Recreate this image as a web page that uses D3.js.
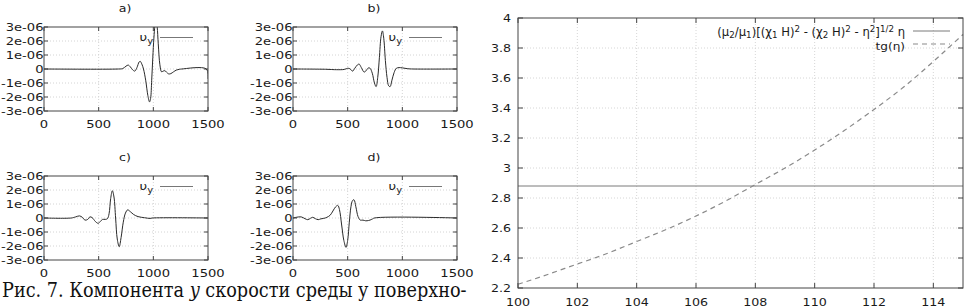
<!DOCTYPE html>
<html>
<head>
<meta charset="utf-8">
<script src="https://cdn.jsdelivr.net/npm/d3@7"></script>
<style>
  body { margin: 0; background: #fff; }
  svg { display: block; }
  text { font-family: "DejaVu Sans", sans-serif; fill: #1a1a1a; }
  text.caption, text.caption tspan { font-family: "DejaVu Serif", "Liberation Serif", "Times New Roman", serif; fill: #111; }
</style>
</head>
<body>
<svg id="chart" width="965" height="308"></svg>
<script>
// ---- small panels: u_y(t), values in units of 1e-6 ----
const panelNames = ["a)", "b)", "c)", "d)"];

const tA = [0, 680, 720, 750, 770, 790, 810, 830, 850, 870, 880, 895, 910, 930, 950, 965, 975, 985, 995, 1005, 1015, 1025, 1035, 1045, 1060, 1075, 1090, 1105, 1120, 1140, 1160, 1185, 1210, 1240, 1260, 1485, 1500];
const uA = [0, 0, 0.03, 0.2, 0.28, 0.15, -0.05, -0.15, 0.1, 0.5, 0.55, 0.35, 0, -0.8, -1.9, -2.35, -2.1, -0.8, 0.8, 2.2, 3.1, 3.4, 3.0, 1.8, 0.3, -0.2, -0.15, -0.12, -0.22, -0.35, -0.33, -0.2, -0.08, -0.02, 0, 0, -0.7];

const tB = [0, 300, 400, 470, 500, 520, 545, 565, 590, 605, 625, 650, 665, 690, 705, 725, 745, 760, 775, 790, 805, 818, 830, 845, 860, 875, 888, 905, 925, 945, 970, 1000, 1050, 1100, 1500];
const uB = [0, -0.02, -0.05, -0.03, 0.05, 0.02, -0.15, 0.05, 0.3, 0.35, 0.1, -0.22, -0.15, 0.08, 0.05, -0.3, -1.0, -1.26, -0.6, 0.8, 2.3, 2.72, 2.2, 0.6, -0.6, -1.2, -1.26, -0.8, -0.25, 0.05, 0.1, 0.08, 0.02, 0, 0];

const tC = [0, 250, 290, 325, 350, 375, 400, 420, 440, 470, 495, 515, 535, 560, 580, 595, 610, 625, 640, 655, 670, 688, 705, 725, 745, 765, 790, 820, 860, 920, 970, 990, 1500];
const uC = [0, 0, 0.08, 0.15, 0.05, -0.15, -0.1, 0.08, 0.03, -0.25, -0.38, -0.25, -0.1, -0.1, -0.05, 0.3, 1.4, 1.95, 1.5, 0, -1.5, -2.05, -1.4, -0.3, 0.35, 0.58, 0.45, 0.25, 0.1, 0.02, -0.03, 0, 0];

const tD = [0, 30, 75, 110, 135, 160, 180, 205, 230, 255, 280, 310, 340, 365, 390, 410, 425, 445, 465, 485, 500, 515, 530, 545, 558, 575, 595, 615, 640, 665, 690, 720, 745, 1500];
const uD = [0, 0.05, 0.08, -0.05, -0.12, -0.02, 0.05, -0.05, -0.12, -0.06, -0.03, 0.05, 0.2, 0.5, 0.8, 0.9, 0.6, -0.5, -1.6, -2.1, -1.6, -0.3, 0.8, 1.25, 1.3, 0.8, 0.1, -0.15, -0.15, -0.2, -0.18, -0.1, 0, 0];

const smallXTicks = [0, 500, 1000, 1500];
const smallYTicks = [-3, -2, -1, 0, 1, 2, 3];
const smallYLabels = ["-3e-06", "-2e-06", "-1e-06", "0", "1e-06", "2e-06", "3e-06"];

// ---- right panel: graphical solution ----
const eta = [100, 101, 102, 103, 104, 105, 106, 107, 108, 109, 110, 111, 112, 113, 114, 115];
const tgEta = [2.225, 2.29, 2.36, 2.43, 2.51, 2.59, 2.68, 2.78, 2.89, 3.00, 3.12, 3.25, 3.39, 3.54, 3.71, 3.89];
const lhsValue = 2.88;
const etaTicks = [100, 102, 104, 106, 108, 110, 112, 114];
const rightYTicks = [2.2, 2.4, 2.6, 2.8, 3, 3.2, 3.4, 3.6, 3.8, 4];

const svg = d3.select("#chart");

// text helper, stretched horizontally like the reference
function label(g, x, y, str, anchor, sx, size) {
  return g.append("text")
    .attr("transform", `translate(${x},${y}) scale(${sx},1)`)
    .attr("text-anchor", anchor)
    .attr("font-size", size)
    .text(str);
}

// rich text with sub/superscripts: parts = [[str, "n"|"sub"|"sup"], ...]
function rich(el, parts, size, sub = 3, sup = -4) {
  let shift = 0;
  parts.forEach(([s, kind]) => {
    const target = kind === "sub" ? sub : kind === "sup" ? sup : 0;
    el.append("tspan")
      .attr("dy", target - shift)
      .attr("font-size", kind === "n" ? size : size * 0.75)
      .text(s);
    shift = target;
  });
}

function smallPanel(left, top, name, t, u, id) {
  const w = 164, h = 84;
  const x = d3.scaleLinear().domain([0, 1500]).range([left, left + w]);
  const y = d3.scaleLinear().domain([-3, 3]).range([top + h, top]);
  const g = svg.append("g");

  // grid
  g.selectAll(".gx").data(smallXTicks.slice(1, -1)).join("line")
    .attr("x1", d => x(d)).attr("x2", d => x(d))
    .attr("y1", top).attr("y2", top + h)
    .attr("stroke", "#d4d4d4").attr("stroke-dasharray", "1,2");
  g.selectAll(".gy").data(smallYTicks.slice(1, -1)).join("line")
    .attr("x1", left).attr("x2", left + w)
    .attr("y1", d => y(d)).attr("y2", d => y(d))
    .attr("stroke", "#d4d4d4").attr("stroke-dasharray", "1,2");

  // inward ticks on all sides
  smallXTicks.forEach(d => {
    g.append("line").attr("x1", x(d)).attr("x2", x(d)).attr("y1", top + h).attr("y2", top + h - 4).attr("stroke", "#444");
    g.append("line").attr("x1", x(d)).attr("x2", x(d)).attr("y1", top).attr("y2", top + 4).attr("stroke", "#444");
    label(g, x(d), top + h + 17, String(d), "middle", 1.25, 10.5);
  });
  smallYTicks.forEach((d, i) => {
    g.append("line").attr("x1", left).attr("x2", left + 4).attr("y1", y(d)).attr("y2", y(d)).attr("stroke", "#444");
    g.append("line").attr("x1", left + w).attr("x2", left + w - 4).attr("y1", y(d)).attr("y2", y(d)).attr("stroke", "#444");
    label(g, left - 0.5, y(d) + 3.8, smallYLabels[i], "end", 1.25, 10.5);
  });

  // curve
  svg.append("clipPath").attr("id", id).append("rect")
    .attr("x", left).attr("y", top).attr("width", w).attr("height", h);
  const line = d3.line().x(d => x(d[0])).y(d => y(d[1])).curve(d3.curveCatmullRom.alpha(0.5));
  g.append("path").datum(d3.zip(t, u))
    .attr("clip-path", `url(#${id})`)
    .attr("d", line).attr("fill", "none").attr("stroke", "#2a2a2a").attr("stroke-width", 1);

  // border
  g.append("rect").attr("x", left).attr("y", top).attr("width", w).attr("height", h)
    .attr("fill", "none").attr("stroke", "#444").attr("stroke-width", 1);

  // legend
  const lt = g.append("text")
    .attr("transform", `translate(${left + 109},${top + 14}) scale(1.2,1)`)
    .attr("text-anchor", "end");
  rich(lt, [["υ", "n"], ["y", "sub"]], 11);
  g.append("line").attr("x1", left + 116).attr("x2", left + 149)
    .attr("y1", top + 10.5).attr("y2", top + 10.5)
    .attr("stroke", "#777").attr("stroke-width", 1.2);

  // title
  label(g, left + 81, top - 15.5, name, "middle", 1.2, 10.5);
}

smallPanel(44, 27, panelNames[0], tA, uA, "clipA");
smallPanel(293, 27, panelNames[1], tB, uB, "clipB");
smallPanel(44, 176, panelNames[2], tC, uC, "clipC");
smallPanel(293, 176, panelNames[3], tD, uD, "clipD");

// ---- right panel ----
{
  const left = 518, right = 963, top = 18, bottom = 288;
  const x = d3.scaleLinear().domain([100, 115]).range([left, right]);
  const y = d3.scaleLinear().domain([2.2, 4]).range([bottom, top]);
  const g = svg.append("g");

  g.selectAll(".gx").data(etaTicks.slice(1)).join("line")
    .attr("x1", d => x(d)).attr("x2", d => x(d)).attr("y1", top).attr("y2", bottom)
    .attr("stroke", "#d6d6d6").attr("stroke-dasharray", "1,2");
  g.selectAll(".gy").data(rightYTicks.slice(1, -1)).join("line")
    .attr("x1", left).attr("x2", right).attr("y1", d => y(d)).attr("y2", d => y(d))
    .attr("stroke", "#d6d6d6").attr("stroke-dasharray", "1,2");

  etaTicks.forEach(d => {
    g.append("line").attr("x1", x(d)).attr("x2", x(d)).attr("y1", bottom).attr("y2", bottom - 5).attr("stroke", "#444");
    g.append("line").attr("x1", x(d)).attr("x2", x(d)).attr("y1", top).attr("y2", top + 5).attr("stroke", "#444");
    label(g, x(d), bottom + 18, String(d), "middle", 1.15, 11);
  });
  rightYTicks.forEach(d => {
    g.append("line").attr("x1", left).attr("x2", left + 5).attr("y1", y(d)).attr("y2", y(d)).attr("stroke", "#444");
    g.append("line").attr("x1", right).attr("x2", right - 5).attr("y1", y(d)).attr("y2", y(d)).attr("stroke", "#444");
    label(g, left - 7, y(d) + 4, d3.format("")(d), "end", 1.15, 11);
  });

  // constant left-hand side
  const hline = d3.line().x(d => x(d[0])).y(d => y(d[1]));
  g.append("path").datum([[100, lhsValue], [115, lhsValue]])
    .attr("d", hline).attr("fill", "none").attr("stroke", "#7a7a7a").attr("stroke-width", 1);

  // tg(eta)
  const tline = d3.line().x((d, i) => x(eta[i])).y(d => y(d)).curve(d3.curveNatural);
  g.append("path").datum(tgEta)
    .attr("d", tline).attr("fill", "none").attr("stroke", "#8a8a8a")
    .attr("stroke-width", 1.2).attr("stroke-dasharray", "5,4");

  g.append("rect").attr("x", left).attr("y", top).attr("width", right - left).attr("height", bottom - top)
    .attr("fill", "none").attr("stroke", "#444").attr("stroke-width", 1);

  // legend
  const l1 = g.append("text").attr("text-anchor", "end");
  rich(l1, [["(μ", "n"], ["2", "sub"], ["/μ", "n"], ["1", "sub"], [")[(χ", "n"], ["1", "sub"], [" H)", "n"], ["2", "sup"],
            [" - (χ", "n"], ["2", "sub"], [" H)", "n"], ["2", "sup"], [" - η", "n"], ["2", "sup"], ["]", "n"], ["1/2", "sup"], [" η", "n"]], 11.5, 2, -4);
  const w1 = l1.node().getComputedTextLength();
  l1.attr("transform", `translate(905,35.5) scale(${188 / w1},1)`);
  g.append("line").attr("x1", 913).attr("x2", 950).attr("y1", 31).attr("y2", 31)
    .attr("stroke", "#7a7a7a").attr("stroke-width", 1);

  const l2 = g.append("text").attr("text-anchor", "end");
  rich(l2, [["tg(η)", "n"]], 11);
  l2.attr("transform", "translate(905,49.5) scale(1.1,1)");
  g.append("line").attr("x1", 913).attr("x2", 950).attr("y1", 44).attr("y2", 44)
    .attr("stroke", "#8a8a8a").attr("stroke-width", 1.2).attr("stroke-dasharray", "5,4");
}

// ---- caption fragment ----
{
  const cap = svg.append("text").attr("class", "caption")
    .attr("font-size", 20);
  cap.append("tspan").text("Рис. 7. Компонента ");
  cap.append("tspan").attr("font-style", "italic").text("y");
  cap.append("tspan").text(" скорости среды у поверхно-");
  const cw = cap.node().getComputedTextLength();
  cap.attr("transform", `translate(2,297) scale(${465 / cw},1)`);
}
</script>
</body>
</html>
